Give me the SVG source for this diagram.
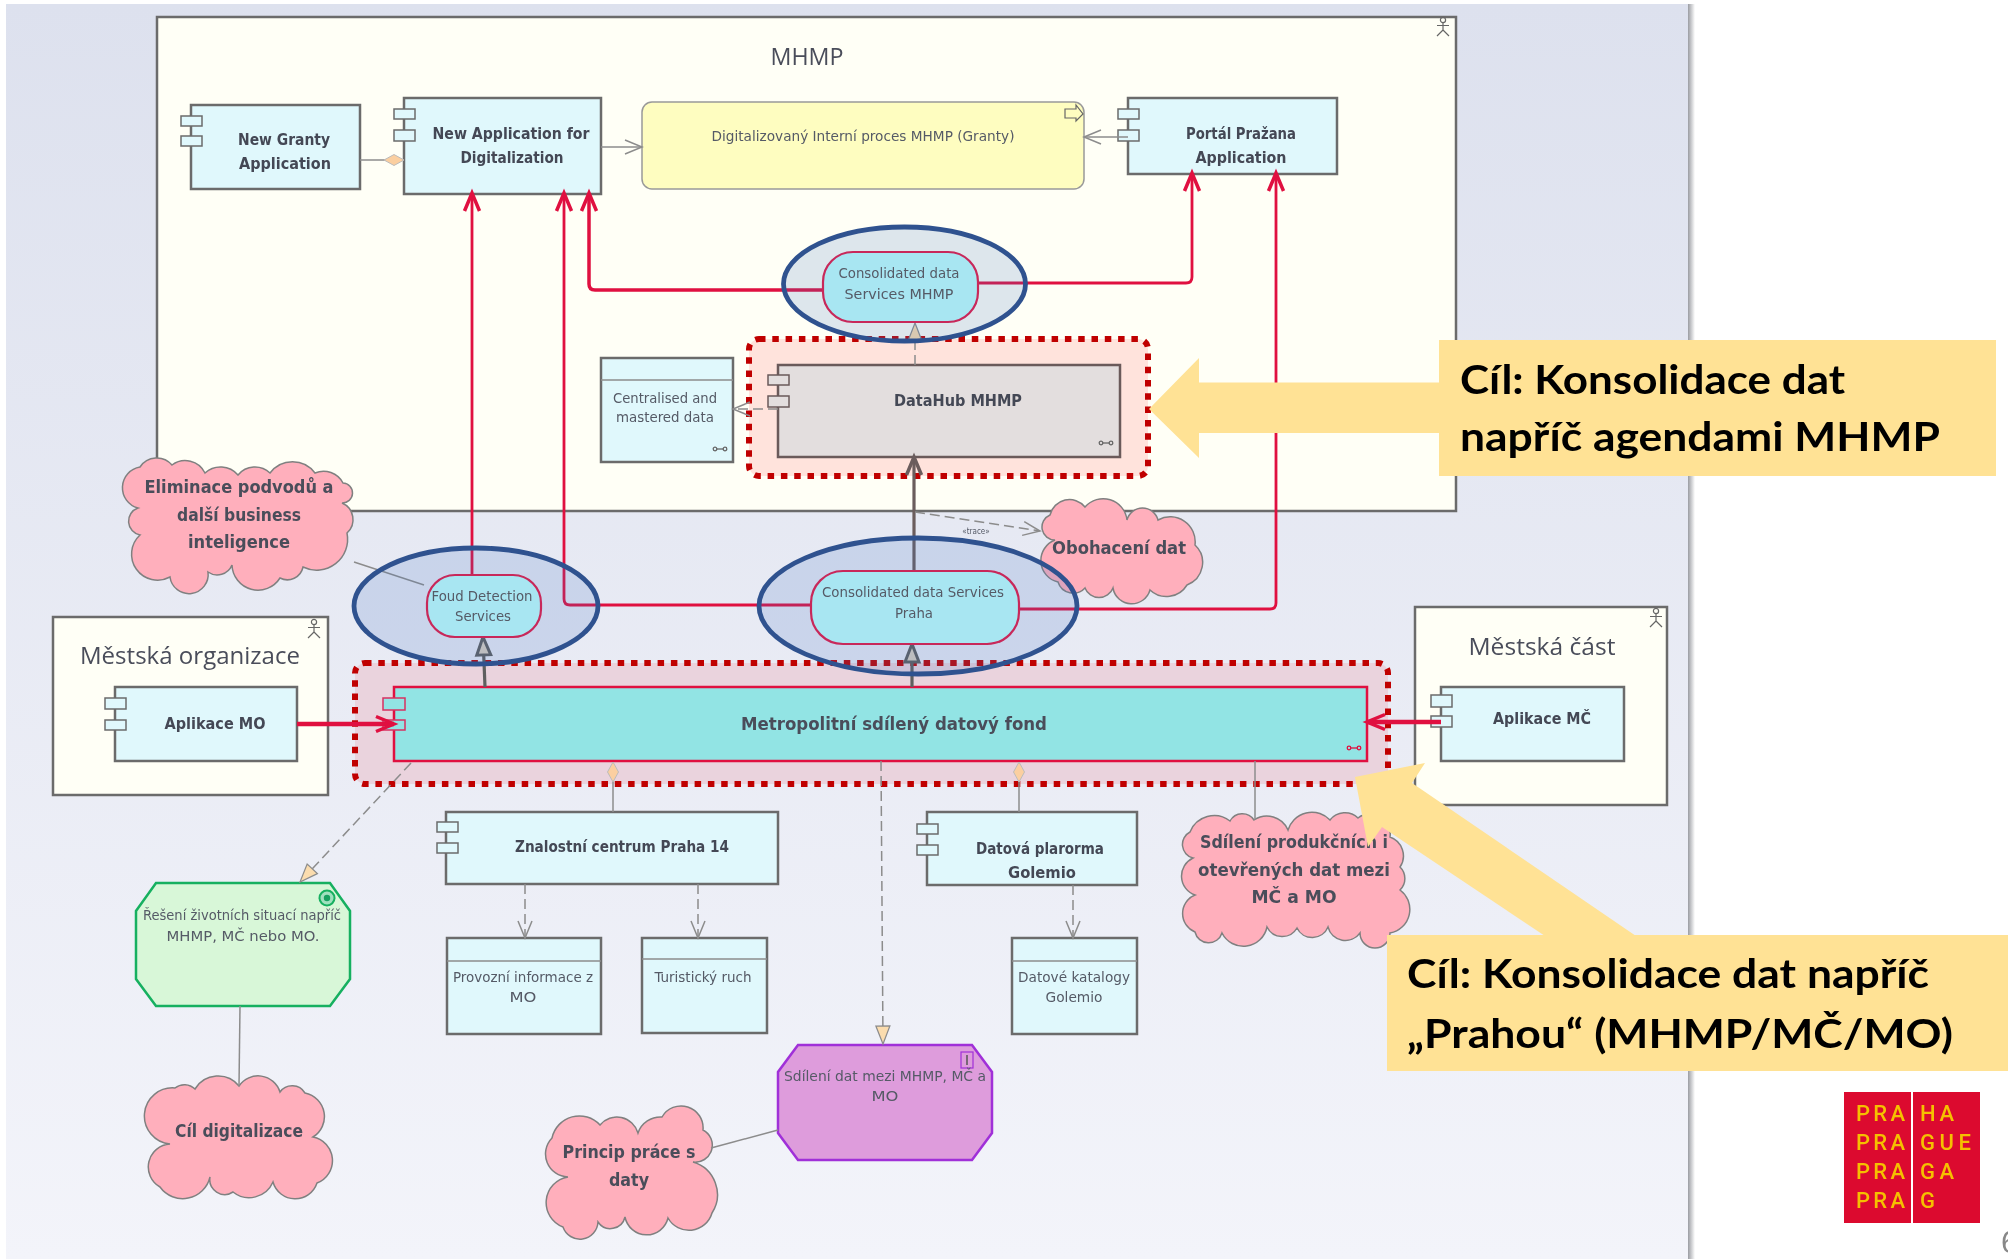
<svg xmlns="http://www.w3.org/2000/svg" xmlns:xlink="http://www.w3.org/1999/xlink" width="2008" height="1259" viewBox="0 0 2008 1259">
<style>
text{font-family:"DejaVu Sans Condensed","DejaVu Sans",sans-serif;text-anchor:middle;fill:#555a66}
.s{font-size:13.5px}
.b{font-size:15px;font-weight:bold;fill:#444855}
.c{font-size:18px;font-weight:bold;fill:#4a4d5a}
.t{font-family:"Open Sans",sans-serif;font-size:24px;fill:#4a4d5a}
.k{font-family:Lato,sans-serif;font-size:41px;font-weight:bold;fill:#000;text-anchor:start}
.g{font-family:Roboto,sans-serif;font-size:22px;font-weight:500;fill:#F5C000;text-anchor:start}
.frame{fill:#FFFFF6;stroke:#6b6b6b;stroke-width:2.5}
.app{fill:#E0F8FC;stroke:#6b6b6b;stroke-width:2.5}
.lug{fill:#E0F8FC;stroke:#6b6b6b;stroke-width:1.5}
.cloud{fill:#FFAFBC;stroke:#808080;stroke-width:1.5}
.pill{fill:#A8E6F2;stroke:#C8285A;stroke-width:2.2}
.oval{stroke:#2F528F;stroke-width:4.8;fill:#4472C4;fill-opacity:.18}
.dot{stroke:#C00000;stroke-width:6;stroke-dasharray:6.500 6.800}
.red{fill:none;stroke:#E01040;stroke-width:2.800;stroke-linejoin:round}
.gl{fill:none;stroke:#8c8c8c;stroke-width:1.5}
.gd{fill:none;stroke:#8c8c8c;stroke-width:1.5;stroke-dasharray:10 5}
.ic{fill:none;stroke:#666;stroke-width:1.2}
.cal{fill:#FFE295}
</style>
<defs>
<linearGradient id="bg" x1="0" y1="0" x2="0" y2="1"><stop offset="0" stop-color="#DDE1EE"/><stop offset="1" stop-color="#F3F4FA"/></linearGradient>
<linearGradient id="sh" x1="0" y1="0" x2="1" y2="0"><stop offset="0" stop-color="#9a9ca2"/><stop offset="1" stop-color="#ffffff"/></linearGradient>
<filter id="soft" filterUnits="userSpaceOnUse" x="0" y="0" width="2008" height="1259" color-interpolation-filters="sRGB"><feGaussianBlur stdDeviation="0.5"/></filter>
<g id="actor" class="ic"><circle cx="0" cy="3" r="2.6"/><path d="M0 5.600V13M-6 8.500H6M0 13L-6 19M0 13L6 19"/></g>
<g id="link" fill="none" stroke="#666" stroke-width="1.3"><circle cx="-5" cy="0" r="1.800"/><circle cx="5" cy="0" r="1.800"/><path d="M-3 0H3"/></g>
<marker id="ar" markerUnits="userSpaceOnUse" markerWidth="26" markerHeight="24" refX="21" refY="12" orient="auto"><path d="M3 4.500L21 12L3 19.500" fill="none" stroke="#E01040" stroke-width="3.500"/></marker>
<marker id="ag" markerUnits="userSpaceOnUse" markerWidth="26" markerHeight="24" refX="21" refY="12" orient="auto"><path d="M3 4.500L21 12L3 19.500" fill="none" stroke="#6B5D5D" stroke-width="3.500"/></marker>
<marker id="ao" markerUnits="userSpaceOnUse" markerWidth="24" markerHeight="20" refX="20" refY="10" orient="auto"><path d="M3 3L20 10L3 17" fill="none" stroke="#8c8c8c" stroke-width="1.500"/></marker>
<marker id="tri" markerUnits="userSpaceOnUse" markerWidth="24" markerHeight="20" refX="20" refY="10" orient="auto"><path d="M2 3L20 10L2 17Z" fill="#FBDCAE" stroke="#8c8c8c" stroke-width="1.200"/></marker>
<marker id="trg" markerUnits="userSpaceOnUse" markerWidth="24" markerHeight="22" refX="21" refY="11" orient="auto"><path d="M3 4L21 11L3 18Z" fill="#D8CFC0" stroke="#5f5f5f" stroke-width="3"/></marker>
<marker id="dm" markerUnits="userSpaceOnUse" markerWidth="26" markerHeight="16" refX="23" refY="8" orient="auto"><path d="M3 8L13 2.500L23 8L13 13.500Z" fill="#FBCFA0" stroke="#bbb" stroke-width="1"/></marker>
</defs>
<rect x="0" y="0" width="2008" height="1259" fill="#fff"/>
<rect x="1688" y="4" width="7" height="1255" fill="url(#sh)"/>
<rect x="6" y="4" width="1682" height="1255" fill="url(#bg)"/>

<g id="frames" filter="url(#soft)">
<g id="mhmp"><rect class="frame" x="157" y="17" width="1299" height="494"/><use xlink:href="#actor" x="1443" y="17"/><text class="t" x="807" y="65" textLength="73" lengthAdjust="spacingAndGlyphs">MHMP</text></g>
<g id="mestska-organizace"><rect class="frame" x="53" y="617" width="275" height="178"/><use xlink:href="#actor" x="314" y="619"/><text class="t" x="190" y="664" textLength="220" lengthAdjust="spacingAndGlyphs">Městská organizace</text></g>
<g id="mestska-cast"><rect class="frame" x="1415" y="607" width="252" height="198"/><use xlink:href="#actor" x="1656" y="608"/><text class="t" x="1542" y="655" textLength="147" lengthAdjust="spacingAndGlyphs">Městská část</text></g>
</g>

<g id="highlights" filter="url(#soft)">
<rect class="dot" x="749" y="339" width="399" height="137" rx="10" fill="#FFE3DC"/>
<rect class="dot" x="355" y="663" width="1033" height="121" rx="10" fill="#EAD3DD"/>
</g>

<g id="nodes" filter="url(#soft)">
<g id="new-granty"><rect class="app" x="191" y="105" width="169" height="84"/><rect class="lug" x="181" y="116" width="21" height="10"/><rect class="lug" x="181" y="136" width="21" height="10"/><text class="b" x="284" y="145" textLength="92" lengthAdjust="spacingAndGlyphs">New Granty</text><text class="b" x="285" y="169" textLength="92" lengthAdjust="spacingAndGlyphs">Application</text></g>
<g id="new-application"><rect class="app" x="404" y="98" width="197" height="96"/><rect class="lug" x="394" y="109" width="21" height="10"/><rect class="lug" x="394" y="130" width="21" height="11"/><text class="b" x="511" y="139" textLength="157" lengthAdjust="spacingAndGlyphs">New Application for</text><text class="b" x="512" y="163" textLength="103" lengthAdjust="spacingAndGlyphs">Digitalization</text></g>
<g id="proces"><rect x="642" y="102" width="442" height="87" rx="10" fill="#FEFDC0" stroke="#999" stroke-width="1.5"/><path class="ic" d="M1065 109H1076V105L1083 114L1076 121V118H1065Z"/><text class="s" x="863" y="141" textLength="303" lengthAdjust="spacingAndGlyphs">Digitalizovaný Interní proces MHMP (Granty)</text></g>
<g id="portal"><rect class="app" x="1128" y="98" width="209" height="76"/><rect class="lug" x="1118" y="109" width="21" height="10"/><rect class="lug" x="1118" y="130" width="21" height="11"/><text class="b" x="1241" y="139" textLength="110" lengthAdjust="spacingAndGlyphs">Portál Pražana</text><text class="b" x="1241" y="163" textLength="91" lengthAdjust="spacingAndGlyphs">Application</text></g>
<g id="datahub"><rect x="778" y="365" width="342" height="92" fill="#E3DEDE" stroke="#6A5A5A" stroke-width="2.500"/><rect x="768" y="375" width="21" height="10" fill="#E3DEDE" stroke="#6A5A5A" stroke-width="1.500"/><rect x="768" y="396" width="21" height="11" fill="#E3DEDE" stroke="#6A5A5A" stroke-width="1.500"/><use xlink:href="#link" x="1106" y="443"/><text class="b" x="958" y="406" textLength="128" lengthAdjust="spacingAndGlyphs">DataHub MHMP</text></g>
<g id="centralised"><rect class="app" x="601" y="358" width="132" height="104"/><path class="gl" d="M601 380H733"/><use xlink:href="#link" x="720" y="449"/><text class="s" x="665" y="403" textLength="104" lengthAdjust="spacingAndGlyphs">Centralised and</text><text class="s" x="665" y="422" textLength="98" lengthAdjust="spacingAndGlyphs">mastered data</text></g>
<g id="aplikace-mo"><rect class="app" x="115" y="687" width="182" height="74"/><rect class="lug" x="105" y="698" width="21" height="11"/><rect class="lug" x="105" y="720" width="21" height="10"/><text class="b" x="215" y="729" textLength="101" lengthAdjust="spacingAndGlyphs">Aplikace MO</text></g>
<g id="aplikace-mc"><rect class="app" x="1441" y="687" width="183" height="74"/><rect class="lug" x="1431" y="695" width="21" height="12"/><rect class="lug" x="1431" y="716" width="21" height="11"/><text class="b" x="1542" y="724" textLength="98" lengthAdjust="spacingAndGlyphs">Aplikace MČ</text></g>
<g id="metropolitni"><rect x="394" y="687" width="973" height="74" fill="#92E4E4" stroke="#E01040" stroke-width="2.500"/><rect x="383" y="698" width="22" height="12" fill="#92E4E4" stroke="#D83060" stroke-width="1.500"/><rect x="383" y="720" width="22" height="10" fill="#92E4E4" stroke="#D83060" stroke-width="1.500"/><g stroke="#E01040"><g fill="none" stroke-width="1.300"><circle cx="1349" cy="748" r="1.800"/><circle cx="1359" cy="748" r="1.800"/><path d="M1351 748H1357"/></g></g><text class="c" x="894" y="730" textLength="306" lengthAdjust="spacingAndGlyphs">Metropolitní sdílený datový fond</text></g>
<g id="znalostni"><rect class="app" x="446" y="812" width="332" height="72"/><rect class="lug" x="437" y="822" width="21" height="10"/><rect class="lug" x="437" y="843" width="21" height="10"/><text class="b" x="622" y="852" textLength="214" lengthAdjust="spacingAndGlyphs">Znalostní centrum Praha 14</text></g>
<g id="datova"><rect class="app" x="927" y="812" width="210" height="73"/><rect class="lug" x="917" y="824" width="21" height="10"/><rect class="lug" x="917" y="845" width="21" height="10"/><text class="b" x="1040" y="854" textLength="128" lengthAdjust="spacingAndGlyphs">Datová plarorma</text><text class="b" x="1042" y="878" textLength="68" lengthAdjust="spacingAndGlyphs">Golemio</text></g>
<g id="provozni"><rect class="app" x="447" y="938" width="154" height="96"/><path class="gl" d="M447 961H601"/><text class="s" x="523" y="982" textLength="140" lengthAdjust="spacingAndGlyphs">Provozní informace z</text><text class="s" x="523" y="1002" textLength="27" lengthAdjust="spacingAndGlyphs">MO</text></g>
<g id="turisticky"><rect class="app" x="642" y="938" width="125" height="95"/><path class="gl" d="M642 959H767"/><text class="s" x="703" y="982" textLength="97" lengthAdjust="spacingAndGlyphs">Turistický ruch</text></g>
<g id="katalogy"><rect class="app" x="1012" y="938" width="125" height="96"/><path class="gl" d="M1012 961H1137"/><text class="s" x="1074" y="982" textLength="112" lengthAdjust="spacingAndGlyphs">Datové katalogy</text><text class="s" x="1074" y="1002" textLength="57" lengthAdjust="spacingAndGlyphs">Golemio</text></g>
<g id="reseni"><path d="M156 883H330L350 911V979L330 1006H156L136 979V911Z" fill="#D8F7D8" stroke="#16B060" stroke-width="2.500"/><circle cx="327" cy="898" r="7.500" fill="#9FE0BE" stroke="#16B060" stroke-width="2"/><circle cx="327" cy="898" r="3.200" fill="#16A060"/><text class="s" x="242" y="920" textLength="198" lengthAdjust="spacingAndGlyphs">Řešení životních situací napříč</text><text class="s" x="243" y="941" textLength="153" lengthAdjust="spacingAndGlyphs">MHMP, MČ nebo MO.</text></g>
<g id="sdileni-dat"><path d="M798 1045H972L992 1072V1133L972 1160H798L778 1133V1072Z" fill="#DE9CDC" stroke="#A030D8" stroke-width="2.500"/><rect x="961" y="1052" width="12" height="16" fill="none" stroke="#A030D8" stroke-width="1.200"/><path d="M967 1055V1065" stroke="#555" stroke-width="1.500"/><text class="s" x="885" y="1081" textLength="202" lengthAdjust="spacingAndGlyphs">Sdílení dat mezi MHMP, MČ a</text><text class="s" x="885" y="1101" textLength="27" lengthAdjust="spacingAndGlyphs">MO</text></g>
<g id="eliminace"><path class="cloud" d="M138 508A21 21 0 0 1 140 467A20 20 0 0 1 172 465A22 22 0 0 1 205 473A23 23 0 0 1 238 475A22 22 0 0 1 270 473A28 28 0 0 1 315 473A22 22 0 0 1 343 483A10 10 0 0 1 342 503A18 18 0 0 1 347 533A31 31 0 0 1 303 567A16 16 0 0 1 280 578A26 26 0 0 1 232 565A16 16 0 0 1 208 572A19 19 0 0 1 170 577A26 26 0 0 1 140 535A14 14 0 0 1 138 508Z"/><text class="c" x="239" y="493" textLength="189" lengthAdjust="spacingAndGlyphs">Eliminace podvodů a</text><text class="c" x="239" y="521" textLength="124" lengthAdjust="spacingAndGlyphs">další business</text><text class="c" x="239" y="548" textLength="102" lengthAdjust="spacingAndGlyphs">inteligence</text></g>
<g id="obohaceni"><path class="cloud" d="M1055 540A13 13 0 0 1 1050 515A20 20 0 0 1 1085 507A24 24 0 0 1 1127 520A16 16 0 0 1 1158 520A25 25 0 0 1 1195 545A24 24 0 0 1 1187 585A24 24 0 0 1 1150 590A19 19 0 0 1 1113 588A15 15 0 0 1 1085 588A16 16 0 0 1 1058 582A22 22 0 0 1 1055 540Z"/><text class="c" x="1119" y="554" textLength="134" lengthAdjust="spacingAndGlyphs">Obohacení dat</text></g>
<g id="sdileni-cloud"><path class="cloud" d="M1190 832A26 26 0 0 1 1230 821A14 14 0 0 1 1254 820A23 23 0 0 1 1288 830A25 25 0 0 1 1330 820A19 19 0 0 1 1358 818A20 20 0 0 1 1390 837A20 20 0 0 1 1400 867A16 16 0 0 1 1400 890A24 24 0 0 1 1390 933A15 15 0 0 1 1360 933A18 18 0 0 1 1328 927A17 17 0 0 1 1297 928A17 17 0 0 1 1267 927A24 24 0 0 1 1222 933A14 14 0 0 1 1195 932A20 20 0 0 1 1195 895A20 20 0 0 1 1193 858A14 14 0 0 1 1190 832Z"/><text class="c" x="1294" y="848" textLength="188" lengthAdjust="spacingAndGlyphs">Sdílení produkčních i</text><text class="c" x="1294" y="876" textLength="192" lengthAdjust="spacingAndGlyphs">otevřených dat mezi</text><text class="c" x="1294" y="903" textLength="85" lengthAdjust="spacingAndGlyphs">MČ a MO</text></g>
<g id="cil"><path class="cloud" d="M170 1144A28 28 0 0 1 175 1088A15 15 0 0 1 195 1089A27 27 0 0 1 239 1086A23 23 0 0 1 280 1092A15 15 0 0 1 305 1093A24 24 0 0 1 313 1137A24 24 0 0 1 317 1183A23 23 0 0 1 273 1182A26 26 0 0 1 233 1192A15 15 0 0 1 210 1177A28 28 0 0 1 160 1187A23 23 0 0 1 170 1144Z"/><text class="c" x="239" y="1137" textLength="128" lengthAdjust="spacingAndGlyphs">Cíl digitalizace</text></g>
<g id="princip"><path class="cloud" d="M568 1177A23 23 0 0 1 552 1138A28 28 0 0 1 600 1125A22 22 0 0 1 638 1133A24 24 0 0 1 662 1117A22 22 0 0 1 703 1130A17 17 0 0 1 693 1162A34 34 0 0 1 712 1213A24 24 0 0 1 668 1218A22 22 0 0 1 625 1217A15 15 0 0 1 598 1222A18 18 0 0 1 563 1227A26 26 0 0 1 568 1177Z"/><text class="c" x="629" y="1158" textLength="133" lengthAdjust="spacingAndGlyphs">Princip práce s</text><text class="c" x="629" y="1186" textLength="40" lengthAdjust="spacingAndGlyphs">daty</text></g>
</g>

<g id="connectors" filter="url(#soft)">
<path class="red" d="M472 575V193" marker-end="url(#ar)"/>
<path class="red" d="M811 605H570Q564 605 564 599V193" marker-end="url(#ar)"/>
<path class="red" d="M823 290H595Q589 290 589 284V193" style="stroke-width:3.500" marker-end="url(#ar)"/>
<path class="red" d="M978 283H1186Q1192 283 1192 277V173" marker-end="url(#ar)"/>
<path class="red" d="M1019 609H1270Q1276 609 1276 603V173" marker-end="url(#ar)"/>
<path d="M914 571V457" fill="none" stroke="#6B5D5D" stroke-width="3.200" marker-end="url(#ag)"/>
<path class="gd" d="M915 365V323" marker-end="url(#tri)"/>
<path class="gd" d="M778 409H733" marker-end="url(#ao)"/>
<path d="M485 687L483 637" fill="none" stroke="#5f5f5f" stroke-width="3.200" marker-end="url(#trg)"/>
<path d="M912 687V644" fill="none" stroke="#5f5f5f" stroke-width="3.200" marker-end="url(#trg)"/>
<path class="red" d="M297 724H394" style="stroke-width:4.500" marker-end="url(#ar)"/>
<path class="red" d="M1441 722H1367" style="stroke-width:4.500" marker-end="url(#ar)"/>
<path class="gd" d="M411 763L300 882" marker-end="url(#tri)"/>
<path class="gl" d="M613 812V762" marker-end="url(#dm)"/>
<path class="gl" d="M1019 812V762" marker-end="url(#dm)"/>
<path class="gl" d="M1255 761V820"/>
<path class="gd" d="M881 761L883 1044" marker-end="url(#tri)"/>
<path class="gd" d="M525 884V938" marker-end="url(#ao)"/>
<path class="gd" d="M698 884V938" marker-end="url(#ao)"/>
<path class="gd" d="M1073 885V938" marker-end="url(#ao)"/>
<path class="gl" d="M360 160H404" marker-end="url(#dm)"/>
<path class="gl" d="M601 147H642" marker-end="url(#ao)"/>
<path class="gl" d="M1128 137H1084" marker-end="url(#ao)"/>
<path class="gl" d="M354 562L424 585"/>
<path class="gl" d="M240 1006L239 1086"/>
<path class="gl" d="M711 1148L778 1130"/>
<path class="gd" d="M915 512L1040 531" marker-end="url(#ao)"/>
<text x="976" y="534" style="font-size:8px">«trace»</text>
</g>

<g id="ovals" filter="url(#soft)">
<ellipse class="oval" cx="904.500" cy="284" rx="121" ry="57"/>
<ellipse class="oval" cx="476" cy="606" rx="122" ry="58"/>
<ellipse class="oval" cx="918" cy="606" rx="159" ry="68"/>
</g>
<g id="services" filter="url(#soft)">
<g id="consolidated-mhmp"><rect class="pill" x="823" y="252" width="155" height="70" rx="30"/><text class="s" x="899" y="278" textLength="121" lengthAdjust="spacingAndGlyphs">Consolidated data</text><text class="s" x="899" y="299" textLength="109" lengthAdjust="spacingAndGlyphs">Services MHMP</text></g>
<g id="foud"><rect class="pill" x="427" y="575" width="114" height="62" rx="28"/><text class="s" x="482" y="601" textLength="101" lengthAdjust="spacingAndGlyphs">Foud Detection</text><text class="s" x="483" y="621" textLength="56" lengthAdjust="spacingAndGlyphs">Services</text></g>
<g id="consolidated-praha"><rect class="pill" x="811" y="571" width="208" height="73" rx="32"/><text class="s" x="913" y="597" textLength="182" lengthAdjust="spacingAndGlyphs">Consolidated data Services</text><text class="s" x="914" y="618" textLength="38" lengthAdjust="spacingAndGlyphs">Praha</text></g>
</g>

<g id="callouts">
<g id="callout-mhmp"><path class="cal" d="M1149 409L1199 358V382.500H1440V433H1199V458Z"/><rect class="cal" x="1439" y="340" width="557" height="136"/><text class="k" x="1460" y="394" textLength="385" lengthAdjust="spacingAndGlyphs">Cíl: Konsolidace dat</text><text class="k" x="1460" y="451" textLength="480" lengthAdjust="spacingAndGlyphs">napříč agendami MHMP</text></g>
<g id="callout-praha"><path class="cal" d="M1355 777L1425 763L1412 783L1636 936H1545L1382 827L1368 847Z"/><rect class="cal" x="1387" y="935" width="621" height="136"/><text class="k" x="1407" y="988" textLength="522" lengthAdjust="spacingAndGlyphs">Cíl: Konsolidace dat napříč</text><text class="k" x="1407" y="1048" textLength="546" lengthAdjust="spacingAndGlyphs">„Prahou“ (MHMP/MČ/MO)</text></g>
</g>

<g id="logo">
<rect x="1844" y="1092" width="136" height="131" fill="#DC0A2F"/><rect x="1911" y="1092" width="2" height="131" fill="#fff"/>
<text class="g" x="1856" y="1121" textLength="49">PRA</text><text class="g" x="1856" y="1150" textLength="49">PRA</text><text class="g" x="1856" y="1179" textLength="49">PRA</text><text class="g" x="1856" y="1208" textLength="49">PRA</text>
<text class="g" x="1920" y="1121" textLength="34">HA</text><text class="g" x="1920" y="1150" textLength="51">GUE</text><text class="g" x="1920" y="1179" textLength="34">GA</text><text class="g" x="1920" y="1208">G</text>
</g>
<text x="2001" y="1253" style="font-family:'Liberation Sans',sans-serif;font-size:31px;fill:#888;text-anchor:start">6</text>
</svg>
